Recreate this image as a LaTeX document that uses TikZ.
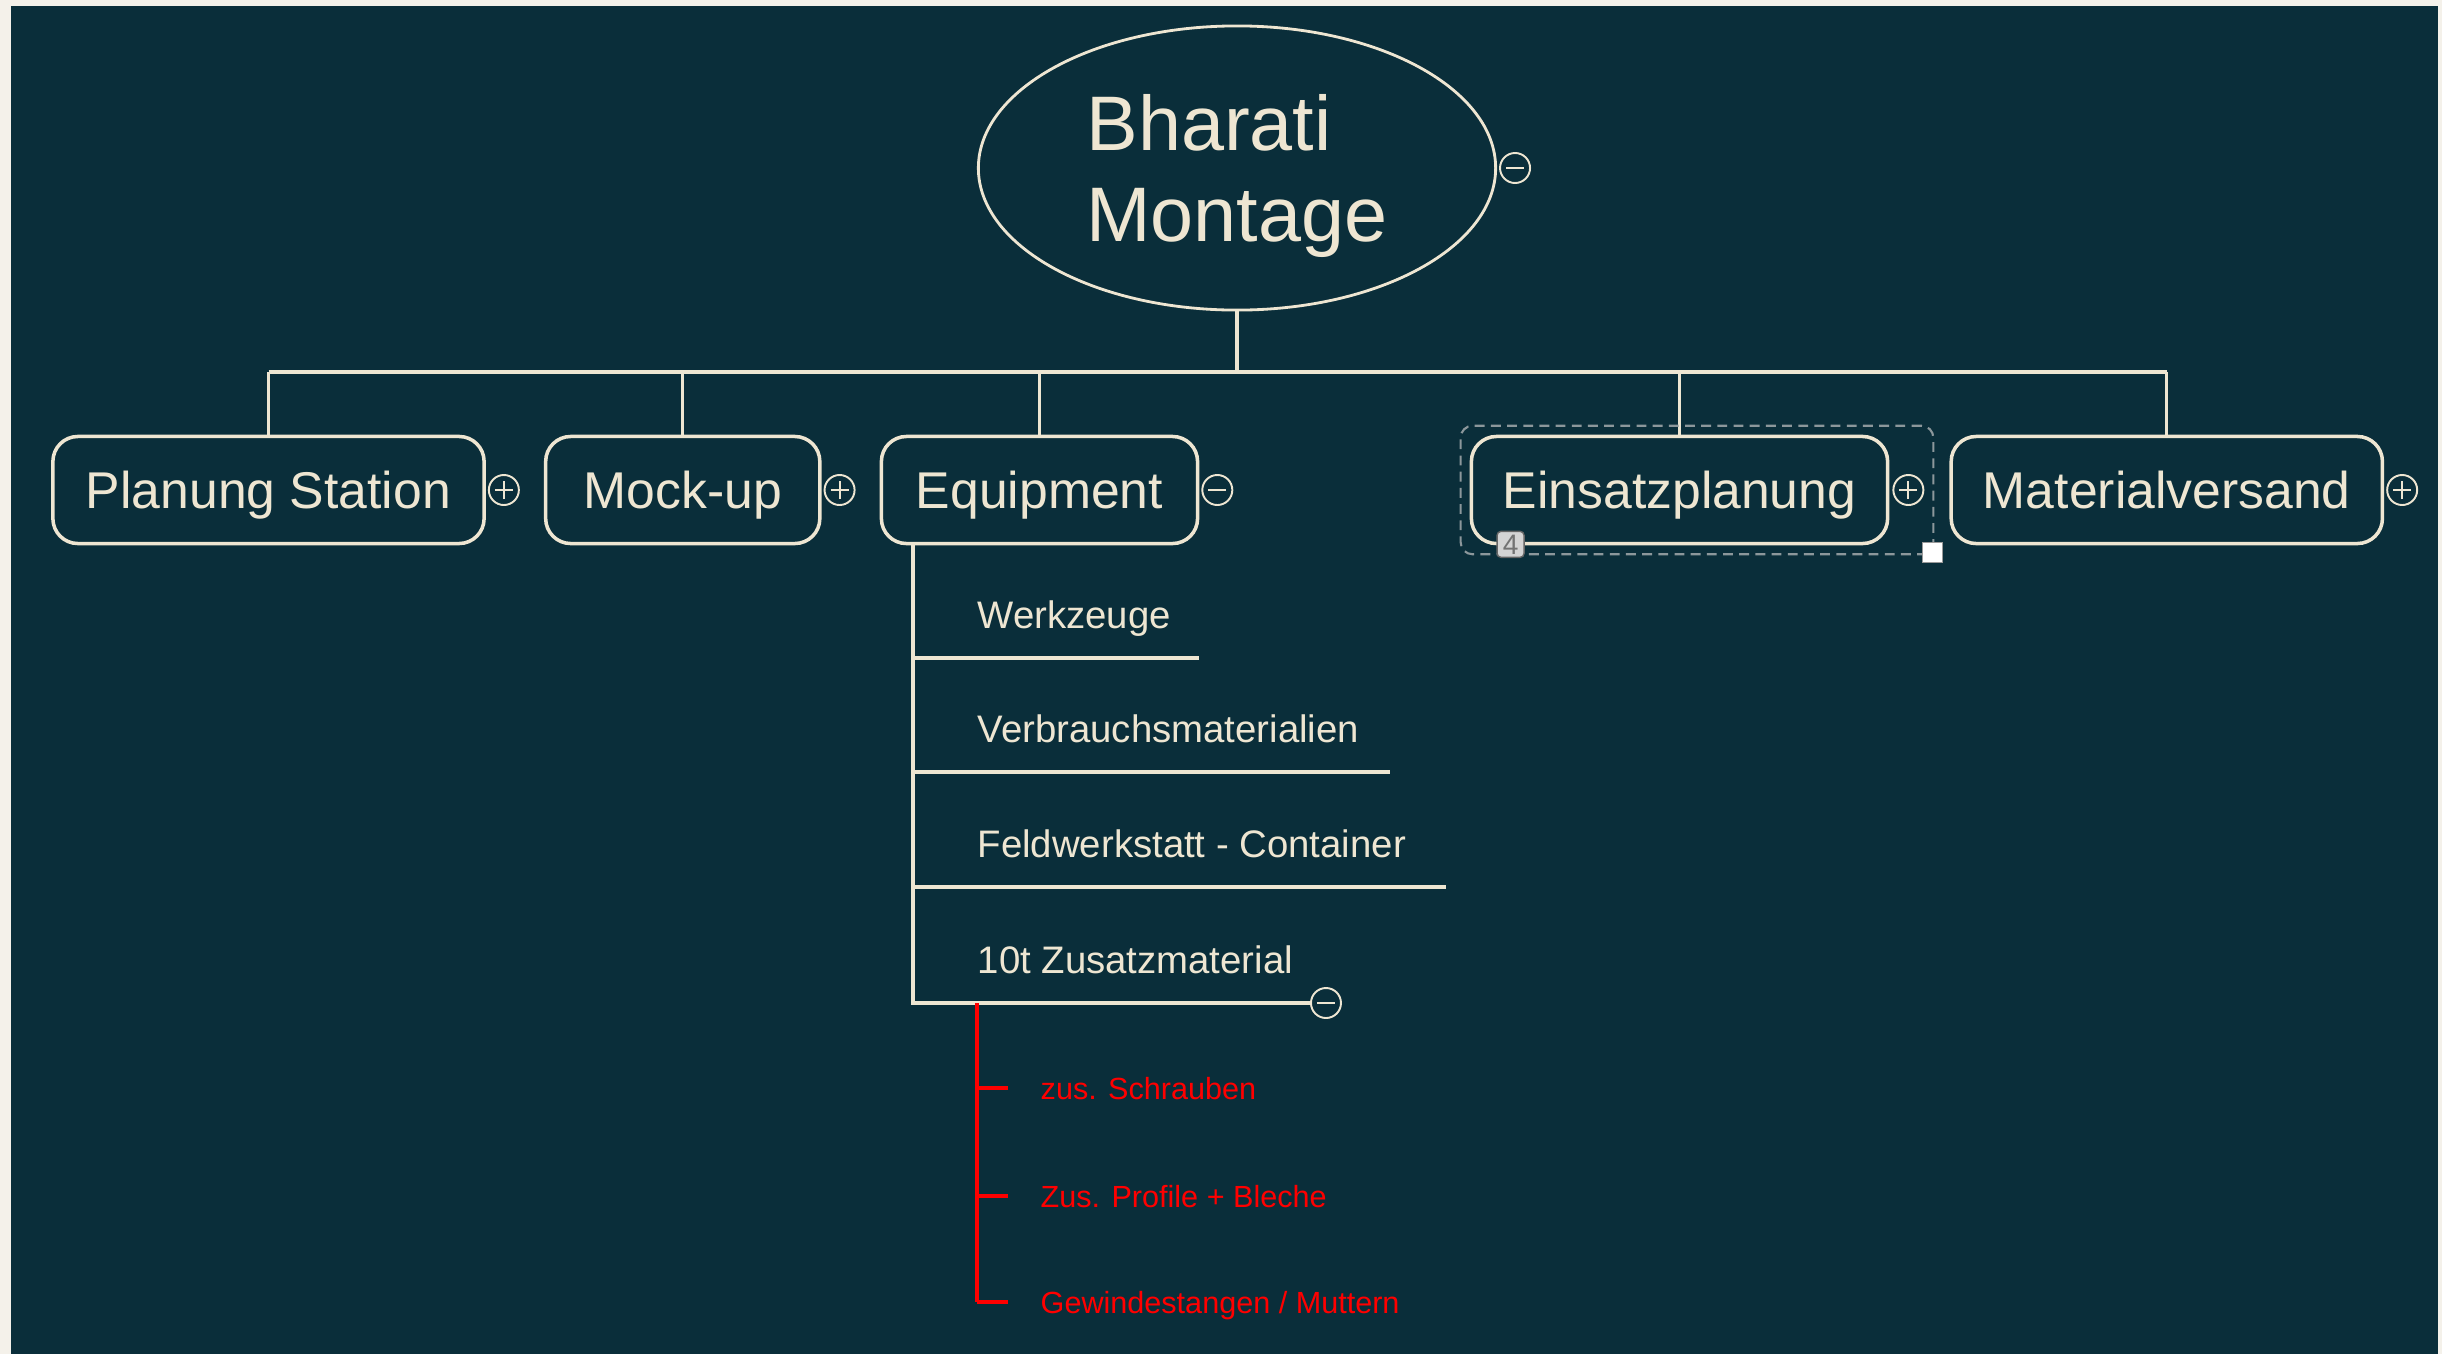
\documentclass[tikz,border=0pt]{standalone}
\usepackage{fontspec}
\setmainfont{Liberation Sans}
\usetikzlibrary{positioning}
\usetikzlibrary{shapes.geometric}
\usetikzlibrary{fit}
\usetikzlibrary{calc}

\definecolor{mapbg}{HTML}{0A2E3A}
\definecolor{mapframe}{HTML}{F4F1EA}
\definecolor{cream}{HTML}{EEE6D2}
\definecolor{mapred}{HTML}{FF0000}
\definecolor{selgray}{HTML}{8C979B}

\begin{document}
\begin{tikzpicture}[x=0.01cm, y=-0.01cm,
topic/.style={draw=cream, line width=1pt, rounded corners=0.25cm, text=cream, font=\fontsize{14.7}{17}\selectfont, minimum height=1.07cm, text height=0.36cm, text depth=0pt, inner sep=0pt},
subtopic/.style={text=cream, font=\fontsize{10.9}{13}\selectfont, anchor=base west, inner sep=0pt},
detail/.style={text=mapred, font=\fontsize{8.7}{10}\selectfont, anchor=west, text height=0.22cm, text depth=0pt, inner sep=0pt},
link/.style={draw=cream, line width=0.9pt},
redlink/.style={draw=mapred, line width=1.2pt},
minusbtn/.style={circle, draw=cream, line width=0.55pt, minimum size=0.3cm, inner sep=0pt,
	path picture={\draw[cream, line width=0.55pt] ([xshift=-0.09cm]path picture bounding box.center) -- ([xshift=0.09cm]path picture bounding box.center);}},
plusbtn/.style={circle, draw=cream, line width=0.55pt, minimum size=0.3cm, inner sep=0pt,
	path picture={\draw[cream, line width=0.55pt] ([xshift=-0.09cm]path picture bounding box.center) -- ([xshift=0.09cm]path picture bounding box.center) ([yshift=-0.09cm]path picture bounding box.center) -- ([yshift=0.09cm]path picture bounding box.center);}}]
\useasboundingbox (0,0) rectangle (2442,1354);
\fill[mapframe] (0,0) rectangle (2442,1354);
\fill[mapbg] (11,6) rectangle (2438,1354);

\node[ellipse, draw=cream, line width=0.8pt, minimum width=5.17cm, minimum height=2.84cm, inner sep=0pt, align=left, text=cream, font=\fontsize{22}{26}\selectfont, text depth=0pt] (root) at (1237,168) {Bharati\\Montage};
\node[minusbtn, right=0.02cm of root] (root-btn) {};

\node[topic, minimum width=4.31cm] (plan) at (268.5,490) {Planung Station};
\node[topic, minimum width=2.74cm, right=0.58cm of plan] (mock) {Mock-up};
\node[topic, minimum width=3.16cm, right=0.58cm of mock] (equip) {Equipment};
\node[topic, minimum width=4.16cm] (einsatz) at (1679.5,490) {Einsatzplanung};
\node[topic, minimum width=4.31cm, right=0.60cm of einsatz] (material) {Materialversand};

\node[plusbtn, right=0.02cm of plan] (plan-btn) {};
\node[plusbtn, right=0.02cm of mock] (mock-btn) {};
\node[minusbtn, right=0.02cm of equip] (equip-btn) {};
\node[plusbtn, right=0.03cm of einsatz] (einsatz-btn) {};
\node[plusbtn, right=0.02cm of material] (material-btn) {};

\coordinate (bus) at (0,372);
\draw[link] (root.south) -- (root.south |- bus);
\draw[link] (plan.north |- bus) -- (material.north |- bus);
\foreach \t in {plan,mock,equip,einsatz,material}
	\draw[link] (\t.north) -- (\t.north |- bus);

\node[fit=(einsatz) (einsatz-btn), inner sep=0.09cm, draw=selgray, line width=0.6pt, dash pattern=on 2.8pt off 1.8pt, rounded corners=0.12cm] (sel) {};
\node[draw=black!60, fill=black!17, text=black!55, rounded corners=0.04cm, minimum width=0.27cm, minimum height=0.26cm, inner sep=0pt, font=\fontsize{8}{9}\selectfont] (sel-count) at ($(sel.south west)+(51,-11)$) {4};
\node[draw=black!40, fill=white, minimum size=0.2cm, inner sep=0pt] (sel-handle) at ($(sel.south east)+(-2,-3)$) {};

\coordinate (spine) at (913,1003);
\foreach \n/\txt/\yu/\xe in {werk/Werkzeuge/658/1199, verb/Verbrauchsmaterialien/772/1390, feld/{Feldwerkstatt - Container}/887/1446, zus/{10t Zusatzmaterial}/1003/1310}{
	\node[subtopic] (\n) at (977,\yu-30) {\txt};
	\coordinate (\n-end) at (\xe,\yu);
}
\draw[link] (spine |- equip.south) -- (spine) -- (zus-end);
\foreach \n in {werk,verb,feld}
	\draw[link] (spine |- \n-end) -- (\n-end);
\node[minusbtn, right=0cm of zus-end] (zus-btn) {};

\coordinate (redtop) at (977,1003);
\foreach \n/\txt/\y in {schr/{zus. Schrauben}/1088, prof/{Zus. Profile + Bleche}/1196, gew/{Gewindestangen / Muttern}/1302}{
	\node[detail] (\n) at (1040,\y) {\txt};
	\draw[redlink] (redtop |- \n.west) -- ([xshift=-0.32cm]\n.west);
}
\draw[redlink] (redtop) -- (redtop |- gew.west);
\end{tikzpicture}
\end{document}
